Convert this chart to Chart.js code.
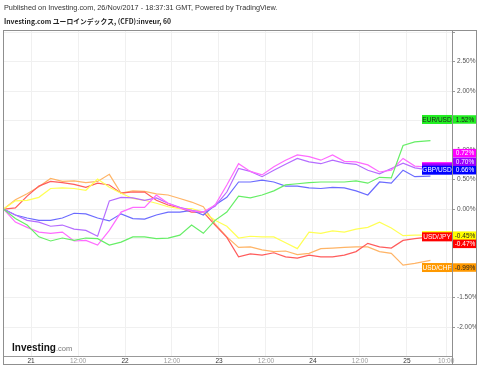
<!DOCTYPE html>
<html>
<head>
<meta charset="utf-8">
<script src="https://cdn.jsdelivr.net/npm/chart.js@4.4.0/dist/chart.umd.min.js"></script>
<style>
  html, body { margin: 0; padding: 0; background: #fff; }
  #wrap { width: 480px; height: 369px; position: relative; }
</style>
</head>
<body>
<div id="wrap"><canvas id="chart"></canvas></div>
<script>
// hours counted from 21 Nov 00:00, one reading every 3 hours
var hours = [-7,-4,-1,2,5,8,11,14,17,20,23,26,29,32,35,38,41,44,47,50,53,56,59,62,65,68,71,74,77,80,83,86,89,92,95,98,102];

var eurusd = [0,-0.16,-0.27,-0.47,-0.54,-0.49,-0.53,-0.49,-0.50,-0.61,-0.56,-0.47,-0.47,-0.50,-0.49,-0.44,-0.27,-0.41,-0.19,-0.05,0.22,0.19,0.24,0.31,0.41,0.43,0.45,0.46,0.46,0.46,0.48,0.44,0.54,0.53,1.08,1.14,1.16];
var pinkSeries = [0,-0.22,-0.31,-0.39,-0.41,-0.39,-0.54,-0.53,-0.61,-0.36,-0.05,0.03,0.03,0.24,0.10,0.02,-0.03,-0.05,0.07,0.41,0.77,0.64,0.58,0.72,0.83,0.92,0.89,0.83,0.92,0.81,0.80,0.75,0.63,0.66,0.86,0.73,0.71];
var purpleSeries = [0,-0.10,-0.19,-0.22,-0.29,-0.27,-0.34,-0.36,-0.46,0.14,0.20,0.19,0.15,0.19,0.10,0.03,-0.02,-0.05,0.05,0.29,0.69,0.64,0.55,0.66,0.76,0.86,0.80,0.77,0.83,0.78,0.76,0.66,0.60,0.69,0.78,0.70,0.66];
var gbpusd = [0,-0.10,-0.15,-0.19,-0.19,-0.15,-0.07,-0.08,-0.15,-0.20,-0.08,-0.16,-0.17,-0.10,-0.05,-0.05,-0.02,-0.10,0.07,0.20,0.46,0.46,0.49,0.46,0.39,0.39,0.36,0.35,0.37,0.36,0.31,0.24,0.46,0.44,0.66,0.55,0.56];
var yellowSeries = [0,0.14,0.15,0.20,0.35,0.36,0.35,0.32,0.51,0.37,0.27,0.18,0.15,0.10,0.04,0.01,0.01,-0.05,-0.19,-0.29,-0.49,-0.46,-0.47,-0.47,-0.57,-0.67,-0.39,-0.41,-0.37,-0.39,-0.34,-0.31,-0.22,-0.32,-0.45,-0.44,-0.44];
var usdjpy = [0,0.02,0.22,0.39,0.47,0.45,0.42,0.37,0.44,0.41,0.27,0.29,0.29,0.15,0.07,0.02,-0.05,-0.05,-0.27,-0.48,-0.81,-0.76,-0.78,-0.74,-0.81,-0.83,-0.78,-0.81,-0.81,-0.78,-0.72,-0.58,-0.64,-0.66,-0.53,-0.50,-0.47];
var usdchf = [0,0.16,0.26,0.38,0.52,0.47,0.48,0.45,0.47,0.59,0.27,0.31,0.30,0.26,0.24,0.18,0.12,0.04,-0.25,-0.47,-0.65,-0.64,-0.69,-0.72,-0.71,-0.77,-0.75,-0.67,-0.66,-0.65,-0.64,-0.64,-0.72,-0.75,-0.95,-0.92,-0.87];

var tickHours = [0,12,24,36,48,60,72,84,96,106];
var tickLabels = ['21','12:00','22','12:00','23','12:00','24','12:00','25','10:00'];

// last-value tags on the right axis
var tagNames = ['EUR/USD','','','GBP/USD','','USD/JPY','USD/CHF'];
var tagValues = [1.52,0.72,0.70,0.66,-0.45,-0.47,-0.99];

var lineColors = ['#66ee66','#ff6bff','#b56cff','#6b6bff','#ffff55','#ff5c5c','#ffb466'];
var tagColors = ['#22ee22','#ff00ff','#9b00ff','#0000ff','#ffff00','#ff0000','#ff9900'];
var tagText = ['#222','#fff','#fff','#fff','#222','#fff','#222'];
var nameText = ['#222','#fff','#fff','#fff','#222','#fff','#fff'];
var valueShift = [0,-13.5,-6,0,0,7,0];

function pts(arr){
  var out = [];
  for (var i = 0; i < arr.length; i++) out.push({x: hours[i], y: arr[i]});
  return out;
}

var series = [eurusd, pinkSeries, purpleSeries, gbpusd, yellowSeries, usdjpy, usdchf];
var datasets = [];
for (var i = 0; i < series.length; i++) {
  datasets.push({
    data: pts(series[i]),
    borderColor: lineColors[i],
    borderWidth: 1.2,
    pointRadius: 0,
    tension: 0,
    fill: false
  });
}

var decor = {
  id: 'decor',
  beforeDraw: function(chart){
    var ctx = chart.ctx;
    ctx.save();
    ctx.fillStyle = '#fff';
    ctx.fillRect(0, 0, chart.width, chart.height);
    ctx.restore();
  },
  afterDraw: function(chart){
    var ctx = chart.ctx;
    var y = chart.scales.y;
    ctx.save();

    // headers
    ctx.textBaseline = 'middle';
    ctx.textAlign = 'left';
    ctx.fillStyle = '#333';
    ctx.font = '7.3px "Liberation Sans", Arial, sans-serif';
    ctx.fillText('Published on Investing.com, 26/Nov/2017 - 18:37:31 GMT, Powered by TradingView.', 4, 8);
    ctx.fillStyle = '#222';
    ctx.font = 'bold 6.8px "Noto Sans CJK JP", "Liberation Sans", sans-serif';
    ctx.fillText('Investing.com ユーロインデックス, (CFD):inveur, 60', 4, 21);

    // frame
    ctx.strokeStyle = '#8f8f8f';
    ctx.lineWidth = 1;
    ctx.strokeRect(3.5, 30.5, 473, 334);
    ctx.beginPath();
    ctx.moveTo(452.5, 30); ctx.lineTo(452.5, 364);
    ctx.stroke();

    // logo
    ctx.textBaseline = 'alphabetic';
    ctx.fillStyle = '#111';
    ctx.font = 'bold 10px "Liberation Sans", Arial, sans-serif';
    ctx.fillText('Investing', 12, 351);
    var w = ctx.measureText('Investing').width;
    ctx.fillStyle = '#777';
    ctx.font = '7.5px "Liberation Sans", Arial, sans-serif';
    ctx.fillText('.com', 12 + w, 351);

    // tags: hidden name boxes first, named ones on top
    ctx.textBaseline = 'middle';
    ctx.textAlign = 'center';
    ctx.font = '6.5px "Liberation Sans", Arial, sans-serif';
    var order = [1,2,4,0,3,5,6];
    for (var k = 0; k < order.length; k++) {
      var i = order[k];
      var py = y.getPixelForValue(tagValues[i]);
      ctx.fillStyle = tagColors[i];
      ctx.fillRect(422, py - 4.5, 30, 9);
      if (tagNames[i]) {
        ctx.fillStyle = nameText[i];
        ctx.fillText(tagNames[i], 437, py + 0.5);
      }
    }
    for (var j = 0; j < tagValues.length; j++) {
      var vy = y.getPixelForValue(tagValues[j]) + valueShift[j];
      ctx.fillStyle = tagColors[j];
      ctx.fillRect(453, vy - 4.25, 23, 8.5);
      ctx.fillStyle = tagText[j];
      ctx.fillText(tagValues[j].toFixed(2) + '%', 465, vy + 0.5);
    }
    ctx.restore();
  }
};

new Chart(document.getElementById('chart'), {
  type: 'line',
  data: { datasets: datasets },
  options: {
    responsive: true,
    maintainAspectRatio: false,
    animation: false,
    events: [],
    layout: { padding: { left: 4, right: 4, top: 31, bottom: 5 } },
    plugins: { legend: { display: false }, tooltip: { enabled: false } },
    scales: {
      x: {
        type: 'linear',
        min: -6.9,
        max: 107.5,
        afterBuildTicks: function(scale){
          scale.ticks = tickHours.map(function(h){ return {value: h}; });
        },
        afterFit: function(scale){ scale.height = 8; },
        grid: { color: '#f0f0f0', drawTicks: false },
        border: { color: '#999' },
        ticks: {
          padding: 1,
          maxRotation: 0,
          autoSkip: false,
          font: { size: 6.5, family: '"Liberation Sans", Arial, sans-serif' },
          color: function(c){ return (tickLabels[c.index] || '').indexOf(':') > 0 ? '#999' : '#333'; },
          callback: function(v, idx){ return tickLabels[idx]; }
        }
      },
      y: {
        position: 'right',
        min: -2.49,
        max: 3.02,
        afterFit: function(scale){ scale.width = 24; },
        grid: { color: '#f0f0f0', tickColor: '#999', tickLength: 3 },
        border: { color: '#999' },
        ticks: {
          stepSize: 0.5,
          includeBounds: false,
          padding: 2,
          color: '#555',
          font: { size: 6.5, family: '"Liberation Sans", Arial, sans-serif' },
          callback: function(v){ return v > 2.9 ? '' : v.toFixed(2) + '%'; }
        }
      }
    }
  },
  plugins: [decor]
});
</script>
</body>
</html>
